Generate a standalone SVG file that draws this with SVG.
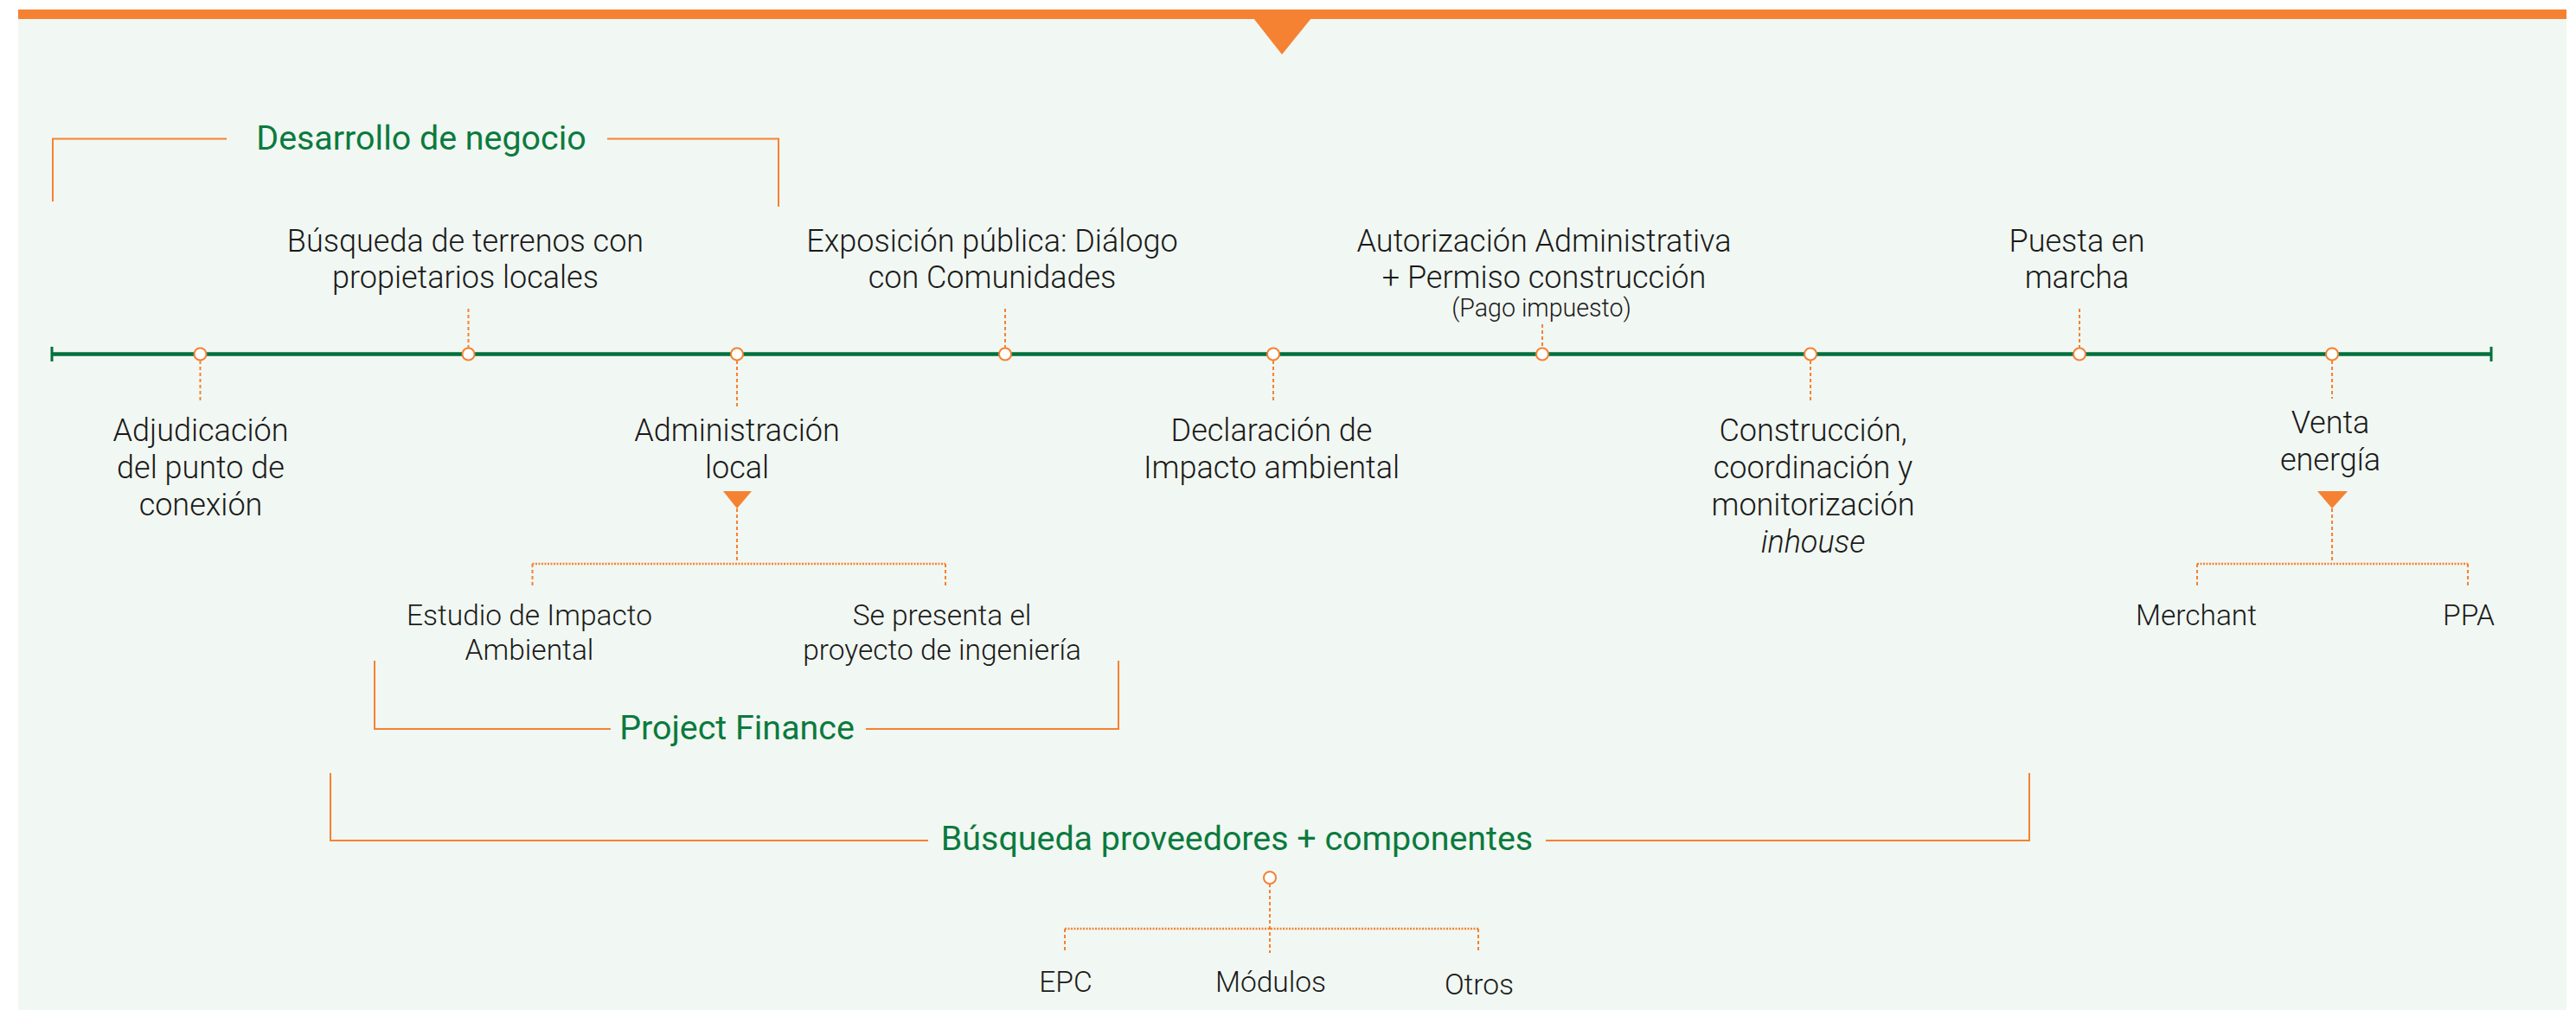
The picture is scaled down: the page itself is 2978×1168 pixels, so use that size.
<svg xmlns="http://www.w3.org/2000/svg" width="2978" height="1168" viewBox="0 0 2978 1168">
<defs>
<style>
.t{font-family:Roboto,"Liberation Sans",sans-serif;font-weight:300;font-size:36px;fill:#1a1a1a;text-anchor:middle}
.sub{font-size:33.5px}
.s{font-size:28.6px}
.it{font-style:italic}
.h{font-family:Roboto,"Liberation Sans",sans-serif;font-weight:400;font-size:39.4px;fill:#0b7a3e;text-anchor:middle}
.br{fill:none;stroke:#f58232;stroke-width:2}
.dv{fill:none;stroke:#f58232;stroke-width:2;stroke-dasharray:4 3}
.dh{fill:none;stroke:#f58232;stroke-width:2.5;stroke-dasharray:2 1.5}
.dot{fill:#ffffff;stroke:#f58232;stroke-width:2}
.tri{fill:#f58232}
</style>
</defs>
<rect x="21" y="21" width="2946" height="1147" fill="#f1f7f2"/>
<rect x="21" y="11" width="2946" height="11" fill="#f58232"/>
<polygon class="tri" points="1449,21 1516,21 1482,63"/>

<g id="connectors">
  <!-- timeline -->
  <line x1="60" y1="409.5" x2="2880" y2="409.5" stroke="#00703c" stroke-width="4.5"/>
  <line x1="60" y1="401" x2="60" y2="418" stroke="#00703c" stroke-width="3"/>
  <line x1="2880" y1="401" x2="2880" y2="418" stroke="#00703c" stroke-width="3"/>
  <!-- stems above -->
  <line class="dv" x1="541.5" y1="357" x2="541.5" y2="402"/>
  <line class="dv" x1="1162" y1="357" x2="1162" y2="402"/>
  <line class="dv" x1="1783" y1="375" x2="1783" y2="402"/>
  <line class="dv" x1="2404" y1="357" x2="2404" y2="402"/>
  <!-- stems below -->
  <line class="dv" x1="231.5" y1="417" x2="231.5" y2="463"/>
  <line class="dv" x1="852" y1="417" x2="852" y2="471"/>
  <line class="dv" x1="1472" y1="417" x2="1472" y2="463"/>
  <line class="dv" x1="2093" y1="417" x2="2093" y2="463"/>
  <line class="dv" x1="2696" y1="417" x2="2696" y2="461"/>
  <!-- administracion local tree -->
  <polygon class="tri" points="836,568 869,568 852,588"/>
  <line class="dv" x1="852" y1="588" x2="852" y2="651"/>
  <line class="dh" x1="615.5" y1="652" x2="1093" y2="652"/>
  <line class="dv" x1="615.5" y1="652" x2="615.5" y2="678"/>
  <line class="dv" x1="1093" y1="652" x2="1093" y2="678"/>
  <!-- venta energia tree -->
  <polygon class="tri" points="2679,568 2714,568 2696,588"/>
  <line class="dv" x1="2696" y1="588" x2="2696" y2="651"/>
  <line class="dh" x1="2540" y1="652" x2="2853" y2="652"/>
  <line class="dv" x1="2540" y1="652" x2="2540" y2="678"/>
  <line class="dv" x1="2853" y1="652" x2="2853" y2="678"/>
  <!-- proveedores tree -->
  <line class="dv" x1="1468" y1="1022" x2="1468" y2="1102"/>
  <line class="dh" x1="1231" y1="1074" x2="1709" y2="1074"/>
  <line class="dv" x1="1231" y1="1074" x2="1231" y2="1100"/>
  <line class="dv" x1="1709" y1="1074" x2="1709" y2="1100"/>
  <!-- brackets -->
  <polyline class="br" points="61,233 61,160.5 262,160.5"/>
  <polyline class="br" points="702,160.5 900,160.5 900,239"/>
  <polyline class="br" points="433,764 433,843 706,843"/>
  <polyline class="br" points="1001,843 1293,843 1293,764"/>
  <polyline class="br" stroke-width="2.5" points="382,894 382,972 1073,972"/>
  <polyline class="br" stroke-width="2.5" points="1787,972 2346,972 2346,894"/>
</g>

<g id="milestones">
  <circle class="dot" cx="231.5" cy="409.5" r="7"/>
  <circle class="dot" cx="541.5" cy="409.5" r="7"/>
  <circle class="dot" cx="852" cy="409.5" r="7"/>
  <circle class="dot" cx="1162" cy="409.5" r="7"/>
  <circle class="dot" cx="1472" cy="409.5" r="7"/>
  <circle class="dot" cx="1783" cy="409.5" r="7"/>
  <circle class="dot" cx="2093" cy="409.5" r="7"/>
  <circle class="dot" cx="2404" cy="409.5" r="7"/>
  <circle class="dot" cx="2696" cy="409.5" r="7"/>
  <circle class="dot" cx="1468" cy="1015" r="7"/>
</g>

<g id="desarrollo-negocio"><text class="h" x="487" y="173">Desarrollo de negocio</text></g>
<g id="project-finance"><text class="h" x="852" y="855">Project Finance</text></g>
<g id="busqueda-proveedores"><text class="h" x="1430" y="983">Búsqueda proveedores + componentes</text></g>

<g id="busqueda-terrenos"><text class="t" x="538" y="291">Búsqueda de terrenos con</text><text class="t" x="538" y="333">propietarios locales</text></g>
<g id="exposicion-publica"><text class="t" x="1147" y="291">Exposición pública: Diálogo</text><text class="t" x="1147" y="333">con Comunidades</text></g>
<g id="autorizacion"><text class="t" x="1785" y="291">Autorización Administrativa</text><text class="t" x="1785" y="333">+ Permiso construcción</text><text class="t s" x="1782" y="366">(Pago impuesto)</text></g>
<g id="puesta-marcha"><text class="t" x="2401" y="291">Puesta en</text><text class="t" x="2401" y="333">marcha</text></g>

<g id="adjudicacion"><text class="t" x="232" y="510">Adjudicación</text><text class="t" x="232" y="553">del punto de</text><text class="t" x="232" y="596">conexión</text></g>
<g id="administracion-local"><text class="t" x="852" y="510">Administración</text><text class="t" x="852" y="553">local</text></g>
<g id="declaracion"><text class="t" x="1470" y="510">Declaración de</text><text class="t" x="1470" y="553">Impacto ambiental</text></g>
<g id="construccion"><text class="t" x="2096" y="510">Construcción,</text><text class="t" x="2096" y="553">coordinación y</text><text class="t" x="2096" y="596">monitorización</text><text class="t it" x="2096" y="639">inhouse</text></g>
<g id="venta-energia"><text class="t" x="2694" y="501">Venta</text><text class="t" x="2694" y="544">energía</text></g>

<g id="estudio-impacto"><text class="t sub" x="612" y="723">Estudio de Impacto</text><text class="t sub" x="612" y="763">Ambiental</text></g>
<g id="proyecto-ingenieria"><text class="t sub" x="1089" y="723">Se presenta el</text><text class="t sub" x="1089" y="763">proyecto de ingeniería</text></g>
<g id="merchant"><text class="t sub" x="2539" y="723">Merchant</text></g>
<g id="ppa"><text class="t sub" x="2854" y="723">PPA</text></g>
<g id="epc"><text class="t sub" x="1232" y="1147">EPC</text></g>
<g id="modulos"><text class="t sub" x="1469" y="1147">Módulos</text></g>
<g id="otros"><text class="t sub" x="1710" y="1150">Otros</text></g>
</svg>
